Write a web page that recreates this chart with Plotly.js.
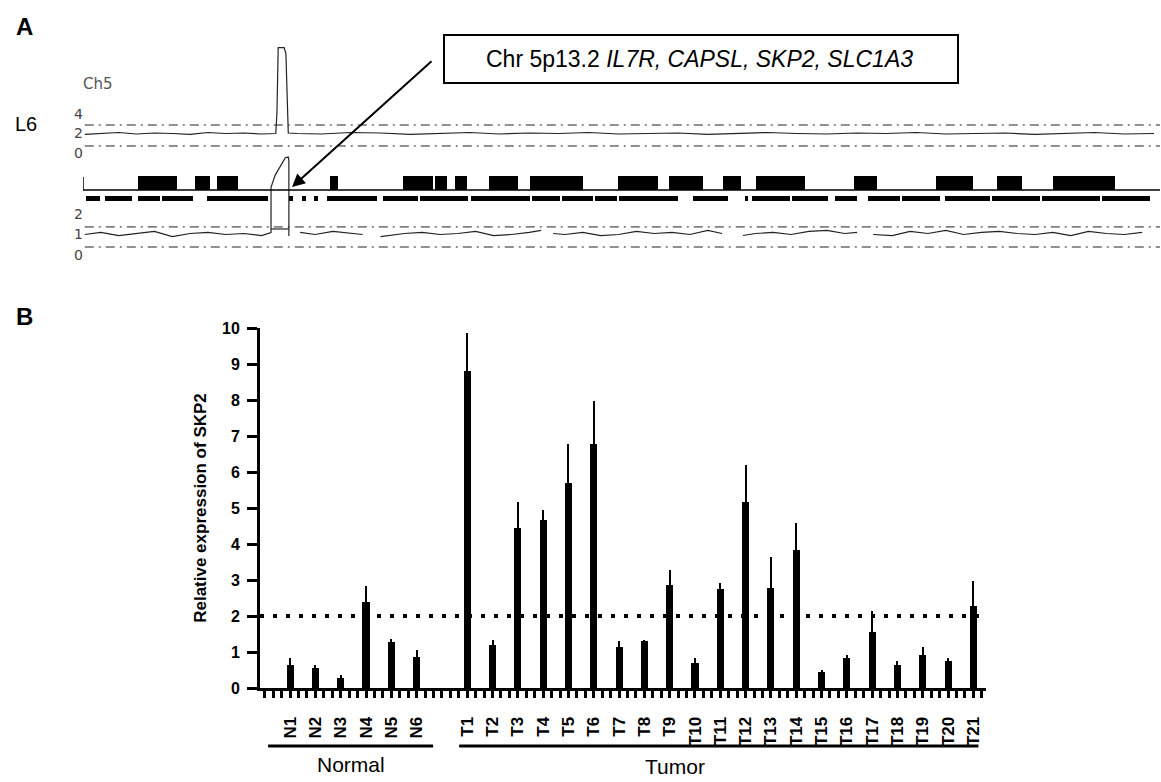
<!DOCTYPE html>
<html>
<head>
<meta charset="utf-8">
<script src="https://cdn.plot.ly/plotly-3.0.1.min.js"></script>
<style>html,body{margin:0;padding:0;background:#fff}#chart{width:1161px;height:782px}</style>
</head>
<body>
<div id="chart"></div>
<script>
// ---------- Panel B data ----------
const normalLabels = ["N1","N2","N3","N4","N5","N6"];
const normalValues = [0.65, 0.56, 0.28, 2.38, 1.27, 0.85];
const normalUpper  = [0.83, 0.65, 0.37, 2.82, 1.36, 1.05];
const tumorLabels = ["T1","T2","T3","T4","T5","T6","T7","T8","T9","T10","T11","T12","T13","T14","T15","T16","T17","T18","T19","T20","T21"];
const tumorValues = [8.8, 1.2, 4.44, 4.68, 5.69, 6.78, 1.14, 1.3, 2.87, 0.69, 2.75, 5.17, 2.78, 3.84, 0.44, 0.83, 1.56, 0.63, 0.93, 0.74, 2.27];
const tumorUpper  = [9.86, 1.34, 5.17, 4.95, 6.79, 7.96, 1.3, 1.33, 3.29, 0.83, 2.92, 6.19, 3.63, 4.58, 0.51, 0.93, 2.13, 0.74, 1.14, 0.83, 2.96];
const threshold = 2;

// ---------- Panel A data (chromosome 5, Mb) ----------
const topPos = [0.3, 3, 6, 9, 12, 15, 18, 21, 24, 27, 30, 32.4, 32.6, 32.8, 33.8, 34.1, 34.3, 34.5, 36, 40, 45, 50, 55, 60, 65, 70, 75, 80, 85, 90, 95, 100, 105, 110, 115, 120, 125, 130, 135, 140, 145, 150, 155, 160, 165, 170, 175, 180];
const topCN  = [1.9, 2.0, 2.1, 1.95, 2.05, 2.0, 1.9, 2.1, 2.0, 2.05, 1.95, 2.0, 4.2, 10.8, 10.8, 10.2, 7.0, 2.05, 2.0, 1.95, 2.1, 2.05, 1.9, 2.0, 2.1, 1.95, 2.05, 2.0, 2.1, 1.95, 2.0, 2.05, 1.9, 2.0, 2.1, 2.0, 1.95, 2.05, 2.0, 2.1, 1.95, 2.0, 2.05, 1.9, 2.0, 2.1, 1.95, 2.0];
const botPos = [0.3, 3, 6, 9, 12, 15, 18, 21, 24, 27, 30, 31.6, 31.6, 32.3, 33.1, 34.0, 34.5, 34.6, 34.6, null, 31.6, 34.6, null,
  36.5, 39, 42, 45, 47, null, 50, 54, 57, 60, 63, 66, 69, 72, 75, 77, null, 79, 81, 84, 87, 90, 93, 96, 99, 102, 105, 107.4, null,
  110.9, 113, 116, 119, 122, 125, 128, 130.1, null, 132.8, 136, 139, 142, 145, 148, 151, 154, 157, 160, 163, 166, 169, 172, 175, 178, 180.5];
const botCN = [1.0, 1.1, 0.95, 1.05, 1.15, 0.9, 1.05, 1.1, 1.0, 1.05, 0.95, 1.1, 3.3, 3.9, 4.3, 4.75, 4.78, 4.6, 0.93, null, 1.27, 1.27, null,
  1.1, 1.0, 1.15, 1.05, 1.0, null, 0.9, 1.05, 1.1, 1.0, 1.05, 1.15, 0.95, 1.0, 1.1, 1.2, null, 1.05, 1.0, 1.1, 0.95, 1.0, 1.15, 1.05, 1.1, 1.0, 1.2, 1.05, null,
  0.95, 1.05, 1.1, 1.0, 1.15, 1.2, 1.05, 1.1, null, 1.0, 0.95, 1.15, 1.05, 1.2, 1.0, 1.1, 1.15, 1.05, 1.0, 1.1, 0.95, 1.15, 1.05, 1.0, 1.1];
const topThresholds = [2.87, 0.72];
const botThresholds = [1.37, 0.39];
const chrLength = 181;
const blockStart = [9.2, 18.8, 22.5, 41.5, 53.8, 59.2, 62.5, 68.2, 75.1, 89.9, 98.5, 107.6, 113.1, 129.6, 143.4, 153.6, 163.0];
const blockEnd   = [15.8, 21.3, 26.1, 42.9, 58.8, 61.2, 64.5, 73.1, 84.0, 96.6, 104.2, 110.6, 121.3, 133.4, 149.6, 157.8, 173.4];
const bandStart = [0.5, 3.7, 9.2, 13.3, 20.8, 34.6, 36.8, 38.8, 41.0, 50.4, 56.6, 65.2, 75.5, 80.5, 86.0, 90.1, 102.5, 111.3, 112.4, 119.2, 126.4, 131.9, 137.6, 144.9, 152.8, 161.2, 171.3];
const bandEnd   = [2.9, 8.2, 12.9, 18.5, 31.1, 35.3, 37.5, 39.5, 49.4, 56.3, 64.7, 75.1, 80.2, 85.7, 89.7, 100.0, 108.4, 111.8, 118.8, 125.2, 130.1, 137.3, 144.0, 152.4, 160.8, 170.9, 179.3];

// ---------- helpers ----------
const W = 1161, H = 782;
const px = v => v / W;
const py = v => 1 - v / H;
const FONT = "Liberation Sans, Arial, sans-serif";

// Panel B positions
const xPosN = normalLabels.map((_, i) => i + 1);
const xPosT = tumorLabels.map((_, i) => i + normalLabels.length + 2);
const xs = xPosN.concat(xPosT);
const labels = normalLabels.concat(tumorLabels);
const vals = normalValues.concat(tumorValues);
const uppers = normalUpper.concat(tumorUpper);
const errUp = uppers.map((u, i) => +(u - vals[i]).toFixed(3));
const xRange = [-0.19, 28.5];

const traces = [];

traces.push({
  type: 'scatter', mode: 'lines', x: xRange, y: [threshold, threshold],
  line: {color: '#000', width: 4, dash: '4px,9px'}, hoverinfo: 'skip', xaxis: 'x', yaxis: 'y'
});
traces.push({
  type: 'bar', x: xs, y: vals, width: 0.28,
  marker: {color: '#000', line: {width: 0}},
  error_y: {type: 'data', symmetric: false, array: errUp, arrayminus: vals.map(() => 0), color: '#000', thickness: 2, width: 0},
  xaxis: 'x', yaxis: 'y'
});

traces.push({
  type: 'bar', orientation: 'h', y: blockStart.map(() => 19), base: blockStart,
  x: blockEnd.map((e, i) => e - blockStart[i]), width: 14,
  marker: {color: '#000', line: {width: 0}}, xaxis: 'x2', yaxis: 'y4', hoverinfo: 'skip'
});
traces.push({
  type: 'bar', orientation: 'h', y: bandStart.map(() => 3.5), base: bandStart,
  x: bandEnd.map((e, i) => e - bandStart[i]), width: 5,
  marker: {color: '#000', line: {width: 0}}, xaxis: 'x2', yaxis: 'y4', hoverinfo: 'skip'
});
traces.push({
  type: 'scatter', mode: 'lines', x: [0, 0, chrLength], y: [25, 12, 12],
  line: {color: '#000', width: 1.5}, xaxis: 'x2', yaxis: 'y4', hoverinfo: 'skip'
});
topThresholds.forEach(t => traces.push({
  type: 'scatter', mode: 'lines', x: [0.3, chrLength], y: [t, t],
  line: {color: '#222', width: 1, dash: '9px,5px,2px,5px'}, xaxis: 'x2', yaxis: 'y2', hoverinfo: 'skip'
}));
botThresholds.forEach(t => traces.push({
  type: 'scatter', mode: 'lines', x: [0.3, chrLength], y: [t, t],
  line: {color: '#222', width: 1, dash: '9px,5px,2px,5px'}, xaxis: 'x2', yaxis: 'y3', hoverinfo: 'skip'
}));
traces.push({
  type: 'scatter', mode: 'lines', x: topPos, y: topCN, line: {color: '#222', width: 1.2},
  xaxis: 'x2', yaxis: 'y2', hoverinfo: 'skip'
});
traces.push({
  type: 'scatter', mode: 'lines', x: botPos, y: botCN, line: {color: '#222', width: 1.2},
  connectgaps: false, xaxis: 'x2', yaxis: 'y3', hoverinfo: 'skip'
});

const trackTickFont = {family: "DejaVu Sans, sans-serif", size: 14, color: '#444'};

const layout = {
  width: W, height: H,
  margin: {l: 0, r: 0, t: 0, b: 0, pad: 0},
  paper_bgcolor: '#fff', plot_bgcolor: 'rgba(0,0,0,0)',
  showlegend: false, barmode: 'overlay', bargap: 0,
  font: {family: FONT, color: '#000'},
  xaxis: {
    domain: [px(260), px(986)], range: xRange, anchor: 'y',
    tickmode: 'array', tickvals: xs, ticktext: labels, tickangle: -90,
    tickfont: {family: FONT, size: 17, weight: 'bold', color: '#000'},
    ticks: 'outside', ticklen: 7, tickwidth: 3, tickcolor: '#000', ticklabelstandoff: 12,
    minor: {ticks: 'outside', ticklen: 7, tickwidth: 3, tickcolor: '#000', dtick: 1/3, tick0: 0, showgrid: false},
    showline: true, linewidth: 3, linecolor: '#000', showgrid: false, zeroline: false, fixedrange: true
  },
  yaxis: {
    domain: [py(688), py(328)], range: [0, 10], anchor: 'x',
    tickvals: [0,1,2,3,4,5,6,7,8,9,10],
    tickfont: {family: FONT, size: 16, weight: 'bold', color: '#000'},
    ticks: 'outside', ticklen: 10, tickwidth: 3, tickcolor: '#000', ticklabelstandoff: 4,
    showline: true, linewidth: 3, linecolor: '#000', showgrid: false, zeroline: false,
    title: {text: 'Relative expression of SKP2', font: {family: FONT, size: 17, weight: 'bold', color: '#000'}, standoff: 12},
    fixedrange: true
  },
  xaxis2: {domain: [px(83), px(1160)], range: [0, chrLength], anchor: 'y2', visible: false, fixedrange: true},
  yaxis2: {
    domain: [py(153), py(46)], range: [0, 10.97], anchor: 'free', position: px(83),
    tickvals: [0, 2, 4], ticks: '', showline: false, showgrid: false, zeroline: false, tickfont: trackTickFont, fixedrange: true
  },
  yaxis3: {
    domain: [py(255), py(155)], range: [0, 4.88], anchor: 'free', position: px(83),
    tickvals: [0, 1, 2], ticks: '', showline: false, showgrid: false, zeroline: false, tickfont: trackTickFont, fixedrange: true
  },
  yaxis4: {domain: [py(202), py(174)], range: [0, 28], anchor: 'x2', visible: false, fixedrange: true},
  shapes: [
    {type: 'rect', xref: 'paper', yref: 'paper', x0: px(444), x1: px(958), y0: py(83), y1: py(35), line: {color: '#000', width: 2}},
    {type: 'line', xref: 'x', yref: 'paper', x0: 0.13, x1: 6.65, y0: py(746), y1: py(746), line: {color: '#000', width: 3}},
    {type: 'line', xref: 'x', yref: 'paper', x0: 7.68, x1: 28.2, y0: py(746), y1: py(746), line: {color: '#000', width: 3}}
  ],
  annotations: [
    {xref: 'paper', yref: 'paper', x: px(24), y: py(26), text: '<b>A</b>', showarrow: false, font: {family: FONT, size: 24}, xanchor: 'center', yanchor: 'middle'},
    {xref: 'paper', yref: 'paper', x: px(24), y: py(316), text: '<b>B</b>', showarrow: false, font: {family: FONT, size: 24}, xanchor: 'center', yanchor: 'middle'},
    {xref: 'paper', yref: 'paper', x: px(26), y: py(124), text: 'L6', showarrow: false, font: {family: FONT, size: 20}, xanchor: 'center', yanchor: 'middle'},
    {xref: 'paper', yref: 'paper', x: px(98), y: py(84), text: 'Ch5', showarrow: false, font: {family: "DejaVu Sans, sans-serif", size: 15, color: '#555'}, xanchor: 'center', yanchor: 'middle'},
    {xref: 'paper', yref: 'paper', x: px(699), y: py(59), text: 'Chr 5p13.2 <i>IL7R, CAPSL, SKP2, SLC1A3</i>', showarrow: false, font: {family: FONT, size: 23}, xanchor: 'center', yanchor: 'middle'},
    {xref: 'paper', yref: 'paper', x: px(292), y: py(187), ax: 141, ay: -127, text: '', showarrow: true, arrowhead: 2, arrowsize: 1.3, arrowwidth: 2, arrowcolor: '#000', standoff: 0, startstandoff: 0},
    {xref: 'x', yref: 'paper', x: 3.4, y: py(764), text: 'Normal', showarrow: false, font: {family: FONT, size: 21}, xanchor: 'center', yanchor: 'middle'},
    {xref: 'paper', yref: 'paper', x: px(675), y: py(766), text: 'Tumor', showarrow: false, font: {family: FONT, size: 21}, xanchor: 'center', yanchor: 'middle'}
  ]
};

Plotly.newPlot('chart', traces, layout, {displayModeBar: false, staticPlot: true});
</script>
</body>
</html>
